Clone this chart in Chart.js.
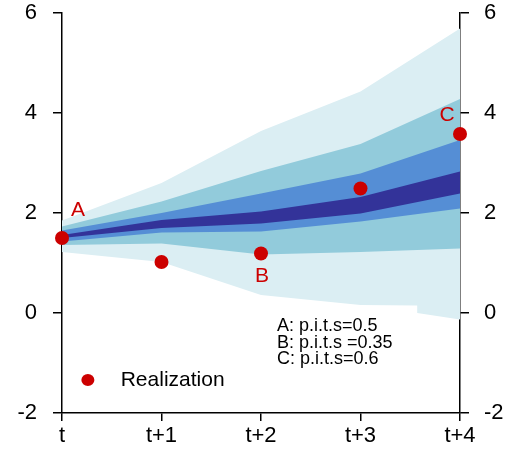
<!DOCTYPE html>
<html><head><meta charset="utf-8">
<script src="https://cdn.jsdelivr.net/npm/chart.js@4/dist/chart.umd.min.js"></script>
<style>html,body{margin:0;padding:0;background:#fff;}canvas{display:block;}</style>
</head><body>
<canvas id="c" width="511" height="455"></canvas>
<script>
// ---- data ----
const horizonLabels = ['t', 't+1', 't+2', 't+3', 't+4'];
const steps = [0, 1, 2, 3, 4];
const outerUpper = [1.85, 2.6, 3.64, 4.43, 5.69];
const outerLowerX = [0, 1, 2, 3, 3.57, 3.57, 4];
const outerLower = [1.22, 1.02, 0.36, 0.16, 0.15, 0.0, -0.13];
const secondUpper = [1.73, 2.23, 2.84, 3.38, 4.28];
const secondLower = [1.36, 1.39, 1.17, 1.22, 1.29];
const mediumUpper = [1.65, 2.0, 2.39, 2.79, 3.46];
const mediumLower = [1.43, 1.61, 1.63, 1.83, 2.09];
const darkUpper = [1.56, 1.86, 2.03, 2.32, 2.83];
const darkLower = [1.5, 1.7, 1.79, 1.99, 2.39];
const realization = [1.5, 1.02, 1.19, 2.49, 3.58];
const yTicks = [-2, 0, 2, 4, 6];
const pointLabels = ['A', 'B', 'C'];
const pointLabelX = [0.16, 2.01, 3.87];
const pointLabelY = [2.06, 0.73, 3.95];
const pitsLines = ['A: p.i.t.s=0.5', 'B: p.i.t.s =0.35', 'C: p.i.t.s=0.6'];
const legendLabel = 'Realization';

const COL_OUTER = '#dbeef3', COL_SECOND = '#92cbdb', COL_MED = '#558ed5', COL_DARK = '#333399', RED = '#cc0000';
const FONT = '"Liberation Sans", Arial, sans-serif';

const pts = (xs, ys) => ys.map((v, i) => ({x: xs[i], y: v}));
const band = (data, color, fillTarget, order) => ({
  data, borderWidth: 0, pointRadius: 0, backgroundColor: color, borderColor: color,
  fill: fillTarget === null ? false : {target: fillTarget}, order, tension: 0
});

const datasets = [
  band(pts(steps, outerUpper), COL_OUTER, null, 8),          // 0
  band(pts(outerLowerX, outerLower), COL_OUTER, 0, 8),       // 1
  band(pts(steps, secondUpper), COL_SECOND, null, 6),        // 2
  band(pts(steps, secondLower), COL_SECOND, 2, 6),           // 3
  band(pts(steps, mediumUpper), COL_MED, null, 4),           // 4
  band(pts(steps, mediumLower), COL_MED, 4, 4),              // 5
  band(pts(steps, darkUpper), COL_DARK, null, 2),            // 6
  band(pts(steps, darkLower), COL_DARK, 6, 2),               // 7
  {data: pts(steps, realization), showLine: false, pointRadius: 7, pointHoverRadius: 7,
   backgroundColor: RED, borderColor: RED, borderWidth: 0, order: 0, clip: false}
];

const annoPlugin = {
  id: 'anno',
  afterDatasetsDraw(chart) {
    const {ctx, scales: {x, y}} = chart;
    ctx.save();
    ctx.fillStyle = RED;
    ctx.font = '21px ' + FONT;
    ctx.textAlign = 'center'; ctx.textBaseline = 'middle';
    pointLabels.forEach((l, i) => ctx.fillText(l, x.getPixelForValue(pointLabelX[i]), y.getPixelForValue(pointLabelY[i])));
    // p.i.t.s text
    ctx.fillStyle = '#000';
    ctx.font = '18px ' + FONT;
    ctx.textAlign = 'left'; ctx.textBaseline = 'alphabetic';
    const px = x.getPixelForValue(2.16), py = y.getPixelForValue(-0.36);
    pitsLines.forEach((t, i) => ctx.fillText(t, px, py + i * 16.5));
    // legend
    const lx = x.getPixelForValue(0.26), ly = y.getPixelForValue(-1.34);
    ctx.fillStyle = RED;
    ctx.beginPath(); ctx.ellipse(lx, ly, 6.5, 6, 0, 0, Math.PI * 2); ctx.fill();
    ctx.fillStyle = '#000';
    ctx.font = '21px ' + FONT;
    ctx.textBaseline = 'middle';
    ctx.fillText(legendLabel, x.getPixelForValue(0.59), ly);
    ctx.restore();
  }
};

const yAxis = (pos, width, pad) => ({
  type: 'linear', position: pos, min: -2, max: 6,
  afterBuildTicks: s => { s.ticks = yTicks.map(v => ({value: v})); },
  afterFit: s => { s.width = width; s.paddingTop = 0; s.paddingBottom = 0; },
  grid: {drawOnChartArea: false, drawTicks: true, tickLength: 9, color: '#000', lineWidth: 1.5},
  border: {display: true, color: '#000', width: 1.5},
  ticks: {color: '#000', font: {size: 22, family: FONT}, padding: pad}
});

new Chart(document.getElementById('c'), {
  type: 'line',
  data: {datasets},
  options: {
    responsive: false, animation: false,
    layout: {padding: {top: 13, left: 0, right: 0, bottom: 0}},
    plugins: {legend: {display: false}, tooltip: {enabled: false}},
    scales: {
      x: {
        type: 'linear', min: 0, max: 4,
        afterBuildTicks: s => { s.ticks = steps.map(v => ({value: v})); },
        afterFit: s => { s.height = 42; s.paddingLeft = 0; s.paddingRight = 0; },
        grid: {drawOnChartArea: false, drawTicks: true, tickLength: 8, color: '#000', lineWidth: 1.5},
        border: {display: true, color: '#000', width: 1.5},
        ticks: {color: '#000', font: {size: 22, family: FONT}, padding: 2, maxRotation: 0,
                callback: v => horizonLabels[v]}
      },
      y: yAxis('left', 62, 16),
      y2: yAxis('right', 51, 15)
    }
  },
  plugins: [annoPlugin]
});
</script>
</body></html>
